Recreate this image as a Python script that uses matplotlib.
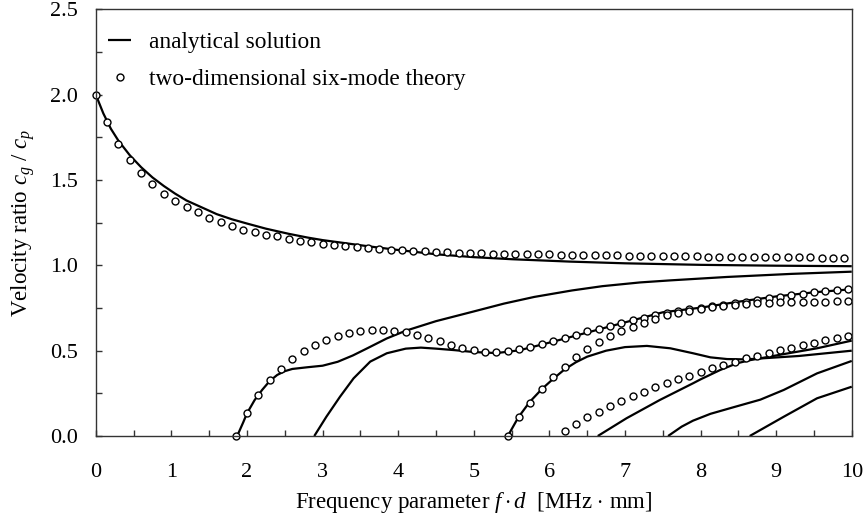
import numpy as np
import matplotlib
matplotlib.use('Agg')
import matplotlib.pyplot as plt

plt.rcParams['font.family'] = ['Liberation Serif', 'DejaVu Serif']
plt.rcParams['mathtext.fontset'] = 'custom'
plt.rcParams['mathtext.rm'] = 'Liberation Serif'
plt.rcParams['mathtext.it'] = 'Liberation Serif:italic'

# analytical solution
l1_x = [0, 0.05, 0.1, 0.2, 0.3, 0.45, 0.6, 0.75, 0.9, 1.05, 1.2, 1.4, 1.6, 1.8, 2.0,
        2.25, 2.55, 2.8, 3.0, 3.3, 3.6, 4.0, 4.5, 5.0, 5.5, 6.27, 7.0, 8.0, 9.0, 10.0]
l1_y = [2.0, 1.945, 1.89, 1.80, 1.73, 1.645, 1.575, 1.515, 1.465, 1.42, 1.38, 1.34, 1.30,
        1.27, 1.245, 1.215, 1.185, 1.163, 1.148, 1.13, 1.112, 1.09, 1.065, 1.048, 1.036,
        1.022, 1.012, 1.003, 0.998, 0.995]

l2_x = [1.87, 1.95, 2.0, 2.1, 2.2, 2.3, 2.4, 2.5, 2.6, 2.8, 3.0, 3.2, 3.4, 3.6, 3.85,
        4.1, 4.5, 5.0, 5.4, 5.8, 6.3, 6.7, 7.2, 7.6, 8.35, 9.2, 10.0]
l2_y = [0.0, 0.08, 0.133, 0.21, 0.27, 0.322, 0.358, 0.38, 0.393, 0.403, 0.412, 0.435,
        0.472, 0.516, 0.572, 0.617, 0.673, 0.73, 0.776, 0.815, 0.853, 0.878, 0.9, 0.912,
        0.932, 0.95, 0.963]

l3_x = [2.89, 3.05, 3.23, 3.41, 3.63, 3.85, 4.1, 4.3, 4.5, 4.75, 5.0, 5.3, 5.6, 6.05,
        6.5, 6.95, 7.5, 8.0, 8.5, 9.0, 9.5, 10.0]
l3_y = [0.0, 0.113, 0.23, 0.338, 0.436, 0.485, 0.512, 0.518, 0.512, 0.503, 0.492, 0.486,
        0.502, 0.553, 0.606, 0.66, 0.725, 0.752, 0.787, 0.818, 0.842, 0.86]

l4_x = [5.45, 5.59, 5.74, 5.9, 6.05, 6.2, 6.35, 6.5, 6.75, 7.0, 7.29, 7.6, 7.9, 8.13,
        8.35, 8.6, 9.3, 10.0]
l4_y = [0.0, 0.11, 0.2, 0.275, 0.335, 0.39, 0.432, 0.465, 0.5, 0.521, 0.528, 0.514,
        0.485, 0.461, 0.451, 0.449, 0.469, 0.5]

l5_x = [6.64, 7.02, 7.46, 7.9, 8.0, 8.26, 8.48, 8.66, 9.1, 9.54, 10.0]
l5_y = [0.0, 0.104, 0.211, 0.309, 0.332, 0.387, 0.426, 0.445, 0.48, 0.514, 0.559]

l6_x = [7.57, 7.75, 7.9, 8.13, 8.43, 8.79, 9.1, 9.54, 10.0]
l6_y = [0.0, 0.055, 0.09, 0.13, 0.168, 0.213, 0.27, 0.367, 0.44]

l7_x = [8.65, 9.1, 9.54, 10.0]
l7_y = [0.0, 0.113, 0.221, 0.289]

# two-dimensional six-mode theory
d1_x = [0, 0.15, 0.3, 0.45, 0.6, 0.75, 0.9, 1.05, 1.2, 1.35, 1.5, 1.65, 1.8, 1.95, 2.1,
        2.25, 2.4, 2.55, 2.7, 2.85, 3.0, 3.15, 3.3, 3.45, 3.6, 3.75, 3.9, 4.05, 4.2, 4.35,
        4.5, 4.65, 4.8, 4.95, 5.1, 5.25, 5.4, 5.55, 5.7, 5.85, 6.0, 6.15, 6.3, 6.45, 6.6,
        6.75, 6.9, 7.05, 7.2, 7.35, 7.5, 7.65, 7.8, 7.95, 8.1, 8.25, 8.4, 8.55, 8.7, 8.85,
        9.0, 9.15, 9.3, 9.45, 9.6, 9.75, 9.9]
d1_y = [2.00, 1.84, 1.71, 1.62, 1.54, 1.475, 1.42, 1.38, 1.34, 1.31, 1.28, 1.255, 1.23,
        1.21, 1.195, 1.18, 1.17, 1.155,
        1.145, 1.135, 1.127, 1.12, 1.114, 1.108, 1.104, 1.098, 1.092, 1.088, 1.084, 1.082,
        1.079, 1.077, 1.075, 1.073, 1.071,
        1.069, 1.068, 1.067, 1.066, 1.065, 1.064, 1.063, 1.062, 1.061, 1.060, 1.059, 1.058,
        1.057, 1.056, 1.055, 1.054, 1.053, 1.053, 1.052, 1.051, 1.051, 1.050, 1.050, 1.049,
        1.049, 1.048, 1.048, 1.047, 1.047, 1.046, 1.046, 1.045]

d2_x = [1.85, 2.0, 2.15, 2.3, 2.45, 2.6, 2.75, 2.9, 3.05, 3.2, 3.35, 3.5, 3.65, 3.8, 3.95,
        4.1, 4.25, 4.4, 4.55, 4.7, 4.85, 5.0, 5.15, 5.3, 5.45, 5.6, 5.75, 5.9, 6.05, 6.2,
        6.35, 6.5, 6.65, 6.8, 6.95, 7.1, 7.25, 7.4, 7.55, 7.7, 7.85, 8.0, 8.15, 8.3, 8.45,
        8.6, 8.75, 8.9, 9.05, 9.2, 9.35, 9.5, 9.65, 9.8, 9.95]
d2_y = [0.0, 0.133, 0.242, 0.328, 0.395, 0.451, 0.496, 0.533, 0.563, 0.586, 0.602, 0.614,
        0.621, 0.620, 0.615, 0.608, 0.594, 0.576, 0.555, 0.535, 0.518, 0.504,
        0.494, 0.49, 0.498, 0.508, 0.522, 0.537, 0.559, 0.573, 0.592, 0.614, 0.627, 0.645,
        0.664, 0.68, 0.694, 0.708, 0.723,
        0.735, 0.744, 0.752, 0.760, 0.768, 0.778, 0.788, 0.798, 0.808, 0.817, 0.826, 0.834,
        0.841, 0.848, 0.854, 0.86]

d3_x = [5.45, 5.6, 5.75, 5.9, 6.05, 6.2, 6.35, 6.5, 6.65, 6.8, 6.95, 7.1, 7.25, 7.4, 7.55,
        7.7, 7.85, 8.0, 8.15, 8.3, 8.45, 8.6, 8.75, 8.9, 9.05, 9.2, 9.35, 9.5, 9.65, 9.8,
        9.95]
d3_y = [0.0, 0.11, 0.195, 0.274, 0.344, 0.406, 0.461, 0.508, 0.551, 0.584, 0.615, 0.641,
        0.662, 0.686, 0.707,
        0.719, 0.733, 0.744, 0.754, 0.762, 0.77, 0.774, 0.778, 0.782, 0.784, 0.786, 0.788,
        0.788, 0.788, 0.79, 0.79]

d4_x = [6.2, 6.35, 6.5, 6.65, 6.8, 6.95, 7.1, 7.25, 7.4, 7.55, 7.7, 7.85, 8.0, 8.15, 8.3,
        8.45, 8.6, 8.75, 8.9, 9.05, 9.2, 9.35, 9.5, 9.65, 9.8, 9.95]
d4_y = [0.03, 0.07, 0.11, 0.141, 0.176, 0.207, 0.234, 0.26, 0.287, 0.309, 0.334, 0.353,
        0.377, 0.397, 0.416, 0.436, 0.455, 0.471, 0.487, 0.504, 0.516, 0.533, 0.547, 0.561,
        0.574, 0.586]

lines = [(l1_x, l1_y), (l2_x, l2_y), (l3_x, l3_y), (l4_x, l4_y),
         (l5_x, l5_y), (l6_x, l6_y), (l7_x, l7_y)]
dots = [(d1_x, d1_y), (d2_x, d2_y), (d3_x, d3_y), (d4_x, d4_y)]

fig = plt.figure(figsize=(8.63, 5.2), dpi=100)
ax = fig.add_axes([0.111, 0.1615, 0.876, 0.8205])

for i, (x, y) in enumerate(lines):
    ax.plot(x, y, color='black', lw=1.6, solid_capstyle='butt', solid_joinstyle='round',
            label='analytical solution' if i == 0 else None)
for i, (x, y) in enumerate(dots):
    ax.plot(x, y, 'o', ms=5, mfc='white', mec='black', mew=1.0, clip_on=False,
            label='two-dimensional six-mode theory' if i == 0 else None)

ax.set_xlim(0, 10)
ax.set_ylim(0, 2.5)
ax.set_xticks(np.arange(0, 11, 1))
ax.set_xticks(np.arange(0, 10.5, 0.5), minor=True)
ax.set_yticks([0, 0.5, 1.0, 1.5, 2.0, 2.5])
ax.set_yticklabels(['0.0', '0.5', '1.0', '1.5', '2.0', '2.5'])
ax.set_yticks(np.arange(0, 2.6, 0.25), minor=True)
ax.tick_params(which='both', direction='in', labelsize=16, color='#333333')
ax.tick_params(which='major', length=4.5, width=1.0)
ax.tick_params(which='minor', length=4.0, width=1.0)
ax.tick_params(axis='x', pad=19.5)
ax.tick_params(axis='y', pad=13)
for s in ax.spines.values():
    s.set_linewidth(1.0)
    s.set_color('#333333')

ax.set_xlabel(r'Frequency parameter $f\cdot d$  [MHz $\cdot$ mm]', fontsize=16.5)
ax.set_ylabel(r'Velocity ratio $c_g$ / $c_p$', fontsize=16.5)
ax.xaxis.set_label_coords(0.5, -0.127)
ax.yaxis.set_label_coords(-0.078, 0.5)

ax.legend(loc='upper left', bbox_to_anchor=(0.004, 0.970), frameon=False, fontsize=16.8,
          handlelength=1.0, handletextpad=0.77, labelspacing=0.68, borderaxespad=0,
          numpoints=1)

fig.savefig('out.png', dpi=100)
